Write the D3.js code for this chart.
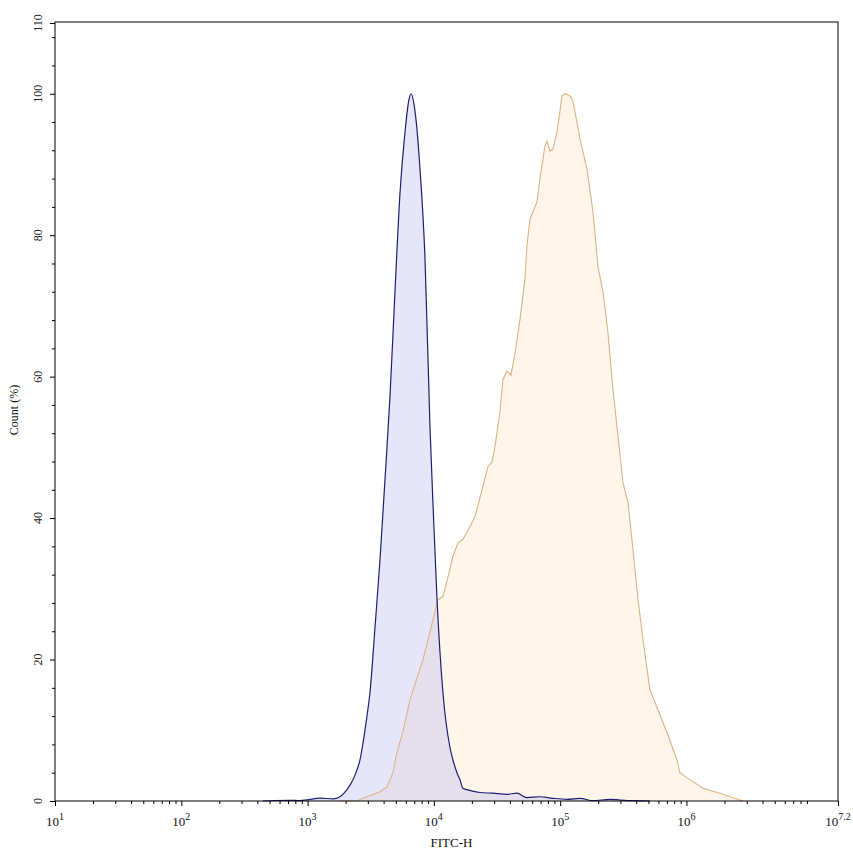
<!DOCTYPE html>
<html><head><meta charset="utf-8">
<script src="https://cdn.jsdelivr.net/npm/d3@7"></script>
<style>html,body{margin:0;padding:0;background:#fff;}svg{display:block;}</style>
</head><body>
<svg id="chart" width="853" height="856"></svg>
<script>
// FITC-H intensity (linear) and Count (%) for control (blue) and sample (orange)
const controlFITC = [443,552,726,871,989,1254,1589,1806,2051,2287,2460,2600,2748,2952,3119,3420,3741,4102,4487,4920,5395,5902,6353,6590,6950,7345,7762,8511,9311,9840,10590,11800,13400,14160,15240,16100,17000,18280,23170,29380,37930,45500,54580,69180,87700,113200,143500,181900,247800,297300,376900,514000];
const controlCount = [0,0.07,0.1,0.05,0.15,0.4,0.3,0.6,1.6,3.0,4.4,5.8,8.2,12,15.3,24.6,34,45.5,57,72,86,94.5,99.2,100,98.6,95,89.4,76.6,53,42,28.5,15.3,7.6,5.8,4,3,1.8,1.6,1.2,1.1,0.95,1.1,0.47,0.6,0.38,0.24,0.38,0.04,0.24,0.14,0.04,0];
const sampleFITC = [1806,2460,2952,3741,4256,4745,5103,5690,6471,8199,9840,10770,11800,12940,14160,15520,17000,19320,21140,24480,26790,28840,30480,33340,35240,37930,40740,43850,48080,52600,54580,57680,60950,65460,69180,73110,75860,78520,82990,87700,94400,99600,103300,109100,119600,126200,143500,162900,181900,199100,218300,238800,261800,287000,314100,344400,376900,413000,452900,514000,616600,714500,841400,887300,1009000,1352000,1841000,2800000];
const sampleCount = [0,0.04,0.6,1.3,2.0,4.0,6.9,9.8,14.3,20,25.6,28.5,28.9,31.7,34.6,36.5,37,38.8,40.2,44.5,47.3,47.9,50.1,55,59.6,60.8,60.2,63.2,68.1,73.8,78.5,82.3,83.3,84.7,88,90.8,92.6,93.3,91.9,92.2,94.6,97.5,99.7,100,99.7,99,93.6,89.4,83.3,75.6,72,66.3,58.2,51.6,45,42.2,35.6,28.5,22.8,15.7,12.2,9.3,5.8,4,3.3,1.8,1.1,0];
const xTickExponents = ["1","2","3","4","5","6","7.2"];
const yTickValues = [0,20,40,60,80,100,110];
const xLabel = "FITC-H";
const yLabel = "Count (%)";

const svg = d3.select("#chart");
const L = 55, R = 838, T = 23, B = 801;
const x = d3.scaleLog().domain([10, Math.pow(10, 7.2)]).range([L, R]);
const y = d3.scaleLinear().domain([0, 110]).range([B, T]);
const font = "'Liberation Serif','Times New Roman',serif";

const sample = sampleFITC.map((v, i) => ({x: v, y: sampleCount[i]}));
const control = controlFITC.map((v, i) => ({x: v, y: controlCount[i]}));

const areaLin = d3.area().x(d => x(d.x)).y0(y(0)).y1(d => y(d.y)).curve(d3.curveLinear);
const lineLin = d3.line().x(d => x(d.x)).y(d => y(d.y)).curve(d3.curveLinear);
const areaSm = d3.area().x(d => x(d.x)).y0(y(0)).y1(d => y(d.y)).curve(d3.curveMonotoneX);
const lineSm = d3.line().x(d => x(d.x)).y(d => y(d.y)).curve(d3.curveMonotoneX);

svg.append("path").datum(sample).attr("d", areaLin).attr("fill", "rgb(252,232,210)").attr("fill-opacity", 0.45);
svg.append("path").datum(control).attr("d", areaSm).attr("fill", "rgb(172,172,238)").attr("fill-opacity", 0.3);
svg.append("path").datum(sample).attr("d", lineLin).attr("fill", "none").attr("stroke", "#ddb286").attr("stroke-width", 1.1);
svg.append("path").datum(control).attr("d", lineSm).attr("fill", "none").attr("stroke", "#1e1e72").attr("stroke-width", 1.2);

// frame
svg.append("rect").attr("x", L).attr("y", T - 1).attr("width", R - L).attr("height", B - T + 1)
  .attr("fill", "none").attr("stroke", "#000").attr("stroke-width", 1);

// x axis
const majorX = xTickExponents.map(e => Math.pow(10, +e));
const minorX = [];
for (let k = 1; k <= 7; k++) for (let m = 2; m <= 9; m++) { const v = m * Math.pow(10, k); if (v < Math.pow(10, 7.2)) minorX.push(v); }
const xAxis = svg.append("g").attr("transform", `translate(0,${B})`);
xAxis.call(d3.axisBottom(x).tickValues(minorX).tickSize(3).tickFormat(""));
xAxis.call(g => g.select(".domain").remove());
const xMaj = svg.append("g").attr("transform", `translate(0,${B})`)
  .call(d3.axisBottom(x).tickValues(majorX).tickSize(5).tickFormat(""));
xMaj.select(".domain").remove();
svg.selectAll("g.tick line").attr("stroke", "#000");
xTickExponents.forEach(e => {
  const t = svg.append("text").attr("x", x(Math.pow(10, +e))).attr("y", 826)
    .attr("text-anchor", "middle").attr("font-family", font).attr("font-size", 13).attr("fill", "#111");
  t.append("tspan").text("10");
  t.append("tspan").attr("dy", -6).attr("font-size", 10).text(e);
});
svg.append("text").attr("x", (L + R) / 2 + 5).attr("y", 847).attr("text-anchor", "middle")
  .attr("font-family", font).attr("font-size", 13).attr("fill", "#111").text(xLabel);

// y axis
const minorY = d3.range(4, 110, 4).filter(v => v % 20 !== 0);
const yMin = svg.append("g").attr("transform", `translate(${L},0)`)
  .call(d3.axisLeft(y).tickValues(minorY).tickSize(3).tickFormat(""));
yMin.select(".domain").remove();
const yMaj = svg.append("g").attr("transform", `translate(${L},0)`)
  .call(d3.axisLeft(y).tickValues(yTickValues).tickSize(5).tickFormat(""));
yMaj.select(".domain").remove();
svg.selectAll("g.tick line").attr("stroke", "#000");
yTickValues.forEach(v => {
  svg.append("text").attr("transform", `translate(42,${y(v)}) rotate(-90)`)
    .attr("text-anchor", "middle").attr("font-family", font).attr("font-size", 12).attr("fill", "#222").text(v);
});
svg.append("text").attr("transform", `translate(18,${410}) rotate(-90)`).attr("text-anchor", "middle")
  .attr("font-family", font).attr("font-size", 12).attr("fill", "#111").text(yLabel);
</script>
</body></html>
